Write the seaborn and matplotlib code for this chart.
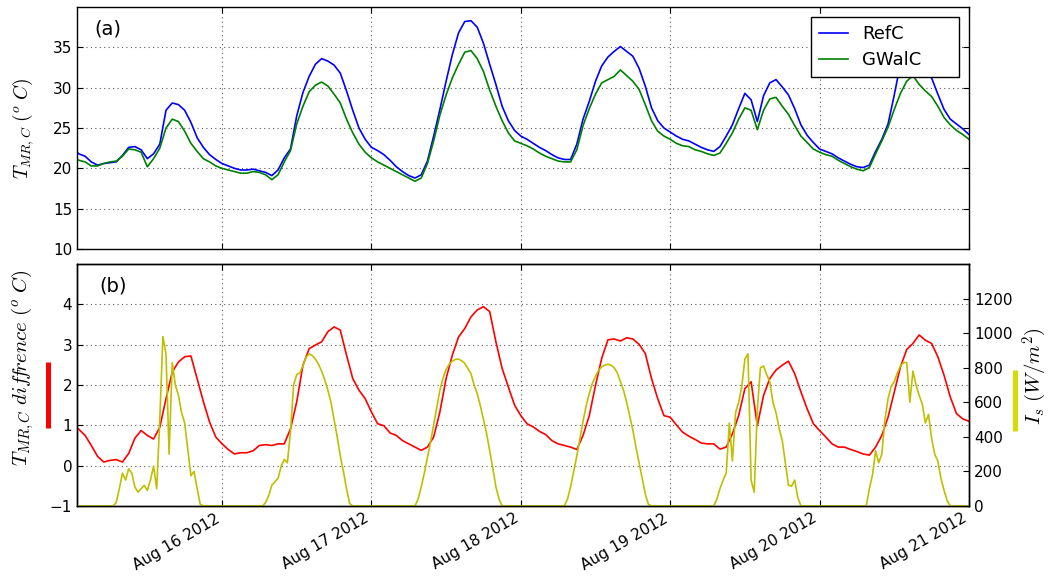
import pandas as pd
import matplotlib
matplotlib.use("Agg")
import matplotlib.pyplot as plt
import matplotlib.dates as mdates
from matplotlib.lines import Line2D
import seaborn as sns

# ---------------- data ----------------
first_time = "2012-08-15 00:42"
grid_start = "2012-08-15 01:00"
last_time = "2012-08-21 00:00"

# hourly values (first one at 00:42, then every hour from 01:00)
ref_c = [22.0,
         21.8, 21.5, 20.8, 20.4, 20.6, 20.7, 20.8, 21.6, 22.6, 22.7, 22.3, 21.2,
         21.8, 23.0, 27.2, 28.1, 27.9, 27.2, 25.7, 23.8, 22.6, 21.7, 21.1, 20.6,
         20.3, 20.0, 19.8, 19.8, 19.9, 19.7, 19.5, 19.1, 19.8, 21.3, 22.4, 26.5,
         29.4, 31.4, 32.9, 33.6, 33.3, 32.8, 31.8, 29.6, 27.2, 25.0, 23.6, 22.6,
         22.2, 21.7, 21.0, 20.2, 19.6, 19.1, 18.8, 19.2, 20.9, 24.0, 27.3, 30.8,
         34.1, 36.8, 38.2, 38.3, 37.5, 35.5, 32.9, 30.4, 27.7, 25.9, 24.7, 24.0,
         23.6, 23.1, 22.6, 22.2, 21.7, 21.3, 21.1, 21.1, 23.0, 26.1, 28.3, 30.8,
         32.7, 33.8, 34.5, 35.1, 34.5, 33.9, 32.4, 30.2, 27.5, 25.9, 25.0, 24.5,
         24.0, 23.6, 23.4, 23.0, 22.6, 22.3, 22.1, 22.7, 24.0, 25.4, 27.4, 29.3,
         28.5, 25.8, 29.0, 30.6, 31.0, 30.1, 29.1, 27.4, 25.4, 24.1, 23.2, 22.4,
         22.1, 21.8, 21.3, 20.9, 20.5, 20.2, 20.1, 20.4, 22.1, 23.6, 25.5, 29.1,
         33.0, 34.0, 34.3, 34.0, 32.0, 31.2, 29.2, 27.3, 26.1, 25.5, 24.9, 24.2]

gwal_c = [21.1,
          21.0, 20.8, 20.3, 20.3, 20.6, 20.8, 20.9, 21.5, 22.4, 22.3, 22.0, 20.2,
          21.2, 22.5, 25.0, 26.1, 25.8, 24.6, 23.1, 22.1, 21.2, 20.8, 20.3, 20.0,
          19.8, 19.6, 19.4, 19.4, 19.6, 19.5, 19.2, 18.6, 19.2, 20.8, 22.2, 25.5,
          27.7, 29.5, 30.3, 30.7, 30.2, 29.2, 28.1, 26.1, 24.4, 23.0, 22.0, 21.3,
          20.8, 20.4, 20.0, 19.6, 19.2, 18.8, 18.4, 18.8, 20.6, 23.4, 26.6, 29.1,
          31.2, 32.9, 34.4, 34.6, 33.6, 32.0, 29.7, 27.7, 25.9, 24.4, 23.4, 23.1,
          22.8, 22.4, 21.9, 21.5, 21.2, 20.9, 20.8, 20.8, 22.3, 25.3, 27.4, 29.2,
          30.6, 31.0, 31.4, 32.2, 31.5, 30.8, 29.8, 27.9, 25.9, 24.6, 24.0, 23.6,
          23.1, 22.8, 22.7, 22.3, 22.1, 21.8, 21.6, 21.9, 23.1, 24.4, 26.1, 27.5,
          27.2, 24.8, 27.2, 28.6, 28.8, 27.7, 26.7, 25.3, 24.0, 23.2, 22.4, 22.0,
          21.7, 21.5, 21.0, 20.6, 20.2, 19.9, 19.7, 20.1, 21.8, 23.4, 25.1, 27.3,
          29.3, 30.8, 31.5, 30.4, 29.6, 28.9, 27.7, 26.3, 25.4, 24.7, 24.2, 23.6]

diff_c = [0.93,
          0.90, 0.75, 0.50, 0.23, 0.09, 0.13, 0.15, 0.09, 0.30, 0.68, 0.87, 0.75,
          0.66, 0.95, 1.66, 2.32, 2.57, 2.70, 2.72, 2.16, 1.59, 1.08, 0.71, 0.54,
          0.40, 0.29, 0.32, 0.32, 0.37, 0.50, 0.52, 0.50, 0.54, 0.54, 0.91, 1.58,
          2.49, 2.90, 2.99, 3.07, 3.32, 3.44, 3.36, 2.74, 2.16, 1.87, 1.66, 1.33,
          1.04, 0.99, 0.81, 0.75, 0.62, 0.54, 0.46, 0.38, 0.46, 0.71, 1.33, 2.16,
          2.74, 3.19, 3.40, 3.69, 3.86, 3.94, 3.82, 3.07, 2.41, 1.95, 1.50, 1.24,
          1.04, 0.96, 0.85, 0.77, 0.62, 0.54, 0.50, 0.46, 0.40, 0.75, 1.24, 1.99,
          2.66, 3.12, 3.14, 3.09, 3.17, 3.14, 3.01, 2.78, 2.16, 1.66, 1.24, 1.20,
          1.01, 0.83, 0.73, 0.65, 0.56, 0.54, 0.54, 0.41, 0.46, 0.79, 1.24, 1.91,
          2.08, 0.99, 1.74, 2.16, 2.37, 2.49, 2.59, 2.28, 1.83, 1.41, 1.04, 0.87,
          0.71, 0.54, 0.46, 0.46, 0.40, 0.35, 0.29, 0.26, 0.46, 0.75, 1.20, 1.83,
          2.45, 2.88, 3.03, 3.24, 3.11, 3.03, 2.70, 2.24, 1.70, 1.29, 1.16, 1.10]

# half-hourly solar irradiance (W/m2), one list per day
irr_aug15 = [0,
             0, 0, 0, 0, 0, 0, 0, 0, 0, 0, 0, 0,
             20, 100, 190, 150, 215, 190, 110, 80, 100, 120, 90, 150,
             230, 100, 500, 980, 880, 300, 830, 700, 640, 540, 480, 330,
             175, 200, 100, 10, 0, 0, 0, 0, 0, 0]
irr_aug16 = [0, 0, 0, 0, 0, 0, 0, 0, 0, 0, 0, 0, 0, 0,
             20, 60, 120, 140, 160, 230, 270, 250, 430, 700, 760, 770,
             810, 860, 880, 870, 850, 820, 780, 730, 670, 600, 500, 400,
             290, 200, 100, 15, 0, 0, 0, 0, 0, 0]
irr_aug17 = [0, 0, 0, 0, 0, 0, 0, 0, 0, 0, 0, 0, 0, 0, 0,
             40, 110, 190, 280, 370, 470, 570, 670, 740, 790, 820, 838,
             848, 850, 840, 825, 795, 765, 700, 650, 580, 500, 420, 320,
             220, 110, 40, 0, 0, 0, 0, 0, 0]
irr_aug18 = [0, 0, 0, 0, 0, 0, 0, 0, 0, 0, 0, 0, 0, 0, 0,
             40, 110, 200, 290, 390, 490, 580, 650, 710, 750, 785, 805,
             815, 820, 815, 800, 770, 720, 670, 600, 520, 440, 340, 250,
             160, 70, 10, 0, 0, 0, 0, 0, 0]
irr_aug19 = [0, 0, 0, 0, 0, 0, 0, 0, 0, 0, 0, 0, 0, 0, 0,
             40, 100, 150, 190, 480, 260, 540, 600, 690, 850, 880, 150,
             80, 560, 800, 810, 760, 720, 600, 540, 450, 380, 250, 120,
             115, 150, 50, 0, 0, 0, 0, 0, 0]
irr_aug20 = [0, 0, 0, 0, 0, 0, 0, 0, 0, 0, 0, 0, 0, 0, 0, 0,
             100, 180, 320, 250, 300, 500, 620, 690, 720, 770, 810, 830,
             830, 600, 780, 700, 640, 590, 480, 530, 390, 300, 260, 160,
             90, 30, 0, 0, 0, 0, 0, 0, 0]

series_names = ["RefC", "GWalC"]
y_ticks_top = [10, 15, 20, 25, 30, 35]
y_ticks_diff = [-1, 0, 1, 2, 3, 4]
y_ticks_irr = [0, 200, 400, 600, 800, 1000, 1200]

# ---------------- frames ----------------
t_hourly = pd.DatetimeIndex([pd.Timestamp(first_time)]).append(
    pd.date_range(grid_start, last_time, freq="h"))
t_half = pd.DatetimeIndex([pd.Timestamp(first_time)]).append(
    pd.date_range(grid_start, last_time, freq="30min"))
irradiance = irr_aug15 + irr_aug16 + irr_aug17 + irr_aug18 + irr_aug19 + irr_aug20

df_top = pd.DataFrame({"time": t_hourly, "RefC": ref_c, "GWalC": gwal_c})
df_diff = pd.DataFrame({"time": t_hourly, "diff": diff_c})
df_irr = pd.DataFrame({"time": t_half, "irr": irradiance})

# ---------------- style ----------------
plt.rcParams.update({
    "font.family": ["DejaVu Sans"],
    "mathtext.fontset": "cm",
    "axes.linewidth": 1.0,
    "axes.edgecolor": "black",
    "xtick.direction": "in",
    "ytick.direction": "in",
    "xtick.major.size": 4,
    "ytick.major.size": 4,
    "xtick.labelsize": 11,
    "ytick.labelsize": 11,
})

fig = plt.figure(figsize=(10.49, 5.79), dpi=100)
ax1 = fig.add_axes([0.0734, 0.5699, 0.8503, 0.418])
ax2 = fig.add_axes([0.0734, 0.1261, 0.8503, 0.418], sharex=ax1)
ax3 = ax2.twinx()

colors = {"RefC": "#0000ff", "GWalC": "#008000"}
for name in series_names:
    sns.lineplot(data=df_top, x="time", y=name, ax=ax1, color=colors[name],
                 lw=1.2, label=name, estimator=None)

sns.lineplot(data=df_diff, x="time", y="diff", ax=ax2, color="#ff0000",
             lw=1.2, estimator=None, legend=False)
sns.lineplot(data=df_irr, x="time", y="irr", ax=ax3, color="#bfbf00",
             lw=1.2, estimator=None, legend=False)

grid_kw = dict(linestyle=(0, (1, 3)), color="0.35", linewidth=0.8)

# top panel
ax1.set_ylim(10, 40)
ax1.set_yticks(y_ticks_top)
ax1.set_xlim(pd.Timestamp(first_time), pd.Timestamp(last_time))
ax1.grid(True, **grid_kw)
ax1.tick_params(top=True, right=True, bottom=True, left=True, labelbottom=False)
ax1.set_xlabel("")
ax1.set_ylabel(r"$T_{MR,C}\ (^o\ C)$", fontsize=14)
ax1.yaxis.set_label_coords(-0.046, 0.5)
ax1.text(0.02, 0.91, "(a)", transform=ax1.transAxes, fontsize=14, va="center")
leg = ax1.legend(loc="upper left", bbox_to_anchor=(0.8229, 0.0, 0.1659, 0.9587),
                 mode="expand", borderaxespad=0, fontsize=13, fancybox=False,
                 framealpha=1, edgecolor="black", handlelength=1.6,
                 handletextpad=0.8, borderpad=0.45, labelspacing=0.45)
leg.get_frame().set_linewidth(1.0)

# bottom panel
ax2.set_ylim(-1, 5)
ax2.set_yticks(y_ticks_diff)
ax3.set_ylim(0, 1400)
ax3.set_yticks(y_ticks_irr)
ax2.grid(True, **grid_kw)
ax3.grid(False)
ax2.tick_params(top=True, bottom=True, left=True, right=False)
ax3.tick_params(right=True)
ax2.xaxis.set_major_locator(mdates.DayLocator())
ax2.xaxis.set_major_formatter(mdates.DateFormatter("%b %d %Y"))
ax2.set_xlim(pd.Timestamp(first_time), pd.Timestamp(last_time))
for lbl in ax2.get_xticklabels():
    lbl.set_rotation(30)
    lbl.set_ha("right")
ax2.set_xlabel("")
ax3.set_xlabel("")
ax2.set_ylabel(r"$T_{MR,C}\ dif\!f\!rence\ (^o\ C)$", fontsize=15)
ax2.yaxis.set_label_coords(-0.046, 0.57)
ax3.set_ylabel(r"$I_s\ (W/m^2)$", fontsize=15)
ax3.yaxis.set_label_coords(1.058, 0.535)
ax2.text(0.025, 0.91, "(b)", transform=ax2.transAxes, fontsize=14, va="center")

# coloured key bars beside the axis labels
ax2.add_line(Line2D([-0.0325, -0.0325], [0.322, 0.595], transform=ax2.transAxes,
                    color="#ff0000", lw=3.6, clip_on=False, solid_capstyle="butt"))
ax2.add_line(Line2D([1.0516, 1.0516], [0.31, 0.562], transform=ax2.transAxes,
                    color="#d4dc00", lw=3.6, clip_on=False, solid_capstyle="butt"))

fig.savefig("out.png", dpi=100)
